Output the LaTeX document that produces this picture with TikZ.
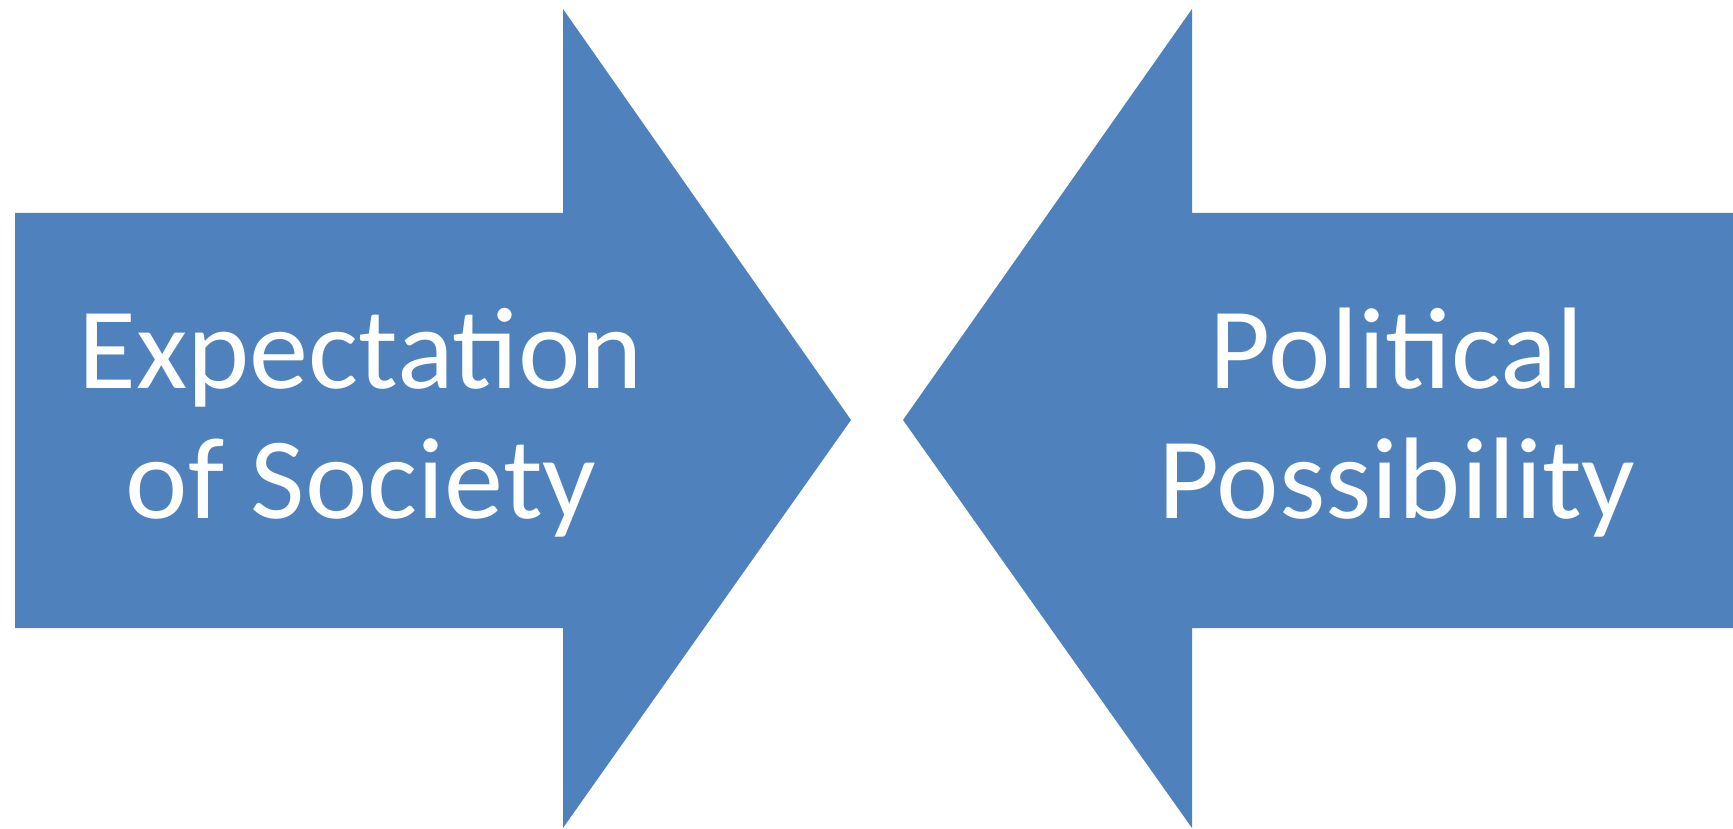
\documentclass[tikz,border=0pt]{standalone}
\usepackage{fontspec}
\newfontfamily\arrowfont[FakeStretch=1.02]{Carlito}
\definecolor{arrowblue}{RGB}{79,129,189}
\begin{document}
\begin{tikzpicture}[x=1pt,y=-1pt,
  arrowshape/.style={fill=arrowblue,draw=none},
  arrowtext/.style={text=white,align=center,anchor=base,inner sep=0pt,
    font=\arrowfont\fontsize{116pt}{130pt}\selectfont}]
\useasboundingbox (0,0) rectangle (1733,829);
% left arrow
\fill[arrowshape] (15,213) -- (563,213) -- (563,9) -- (851,420) -- (563,828) -- (563,628) -- (15,628) -- cycle;
% right arrow
\fill[arrowshape] (1733,213) -- (1192,213) -- (1192,9) -- (903,420) -- (1192,828) -- (1192,628) -- (1733,628) -- cycle;
\node[arrowtext] (expect) at (361,518) {Expectation\\of Society};
\node[arrowtext] (polit) at (1397,518) {Political\\Possibility};
\end{tikzpicture}
\end{document}
